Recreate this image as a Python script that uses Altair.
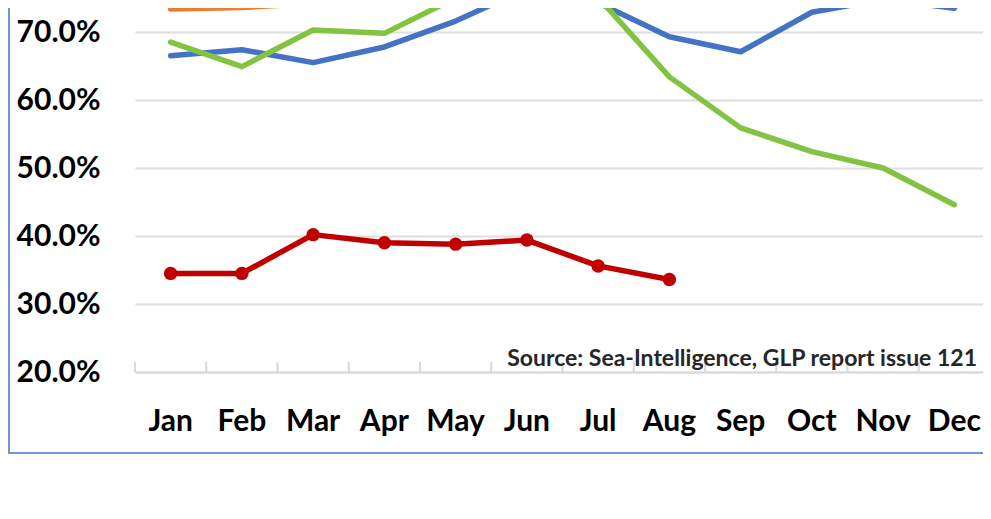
import altair as alt
import pandas as pd

months = ["Jan", "Feb", "Mar", "Apr", "May", "Jun", "Jul", "Aug", "Sep", "Oct", "Nov", "Dec"]
years = ["2018", "2019", "2020", "2021"]
rel_2018 = [66.5, 67.4, 65.5, 67.8, 71.6, 76.4, 74.3, 69.3, 67.1, 72.9, 74.8, 73.5]
rel_2019 = [73.4, 73.6, 74.2, 76.2, 77.6, 78.9, 78.6, 80.6, 78.4, 79.1, 78.0, 79.8]
rel_2020 = [68.5, 64.9, 70.3, 69.8, 75.0, 77.4, 75.1, 63.4, 55.9, 52.4, 50.0, 44.6]
rel_2021 = [34.5, 34.5, 40.2, 39.0, 38.8, 39.4, 35.6, 33.6]
series_colors = ["#4472C4", "#ED7D31", "#82C341", "#C00000"]
y_ticks = [20, 30, 40, 50, 60, 70]
source_note = "Source: Sea-Intelligence, GLP report issue 121"

LEFT = 127
W, H = 848, 364          # visible plot area (svg may not exceed the 975px body width)
X_SPAN = 855             # full category span
PX_PER_PCT = 6.8
y_dom = [20, 20 + H / PX_PER_PCT]
STEP = X_SPAN / len(months)

rows = []
for yr, vals in zip(years, [rel_2018, rel_2019, rel_2020, rel_2021]):
    for m, v in zip(months, vals):
        rows.append({"month": m, "year": yr, "value": v})
df = pd.DataFrame(rows)
df21 = df[df["year"] == "2021"]

edges = pd.DataFrame({"month": months, "base": 20.0, "top": 20 + 10 / PX_PER_PCT})

FONT = "Lato"

x_enc = alt.X(
    "month:N", sort=months, scale=alt.Scale(domain=months, range=[0, X_SPAN]),
    axis=alt.Axis(title=None, labelAngle=0, labelFont=FONT, labelFontSize=30,
                  labelFontWeight="bold", labelColor="#000000", labelPadding=34,
                  ticks=False, domainColor="#d9d9d9", domainWidth=2, grid=False),
)
y_enc = alt.Y(
    "value:Q", scale=alt.Scale(domain=y_dom, nice=False, zero=False),
    axis=alt.Axis(title=None, values=y_ticks, labelExpr="format(datum.value, '.1f') + '%'",
                  labelFont=FONT, labelFontSize=30, labelFontWeight="bold", labelColor="#000000",
                  labelPadding=35, domain=False, ticks=False, grid=True,
                  gridColor="#dedede", gridWidth=2),
)
color_enc = alt.Color("year:N", scale=alt.Scale(domain=years, range=series_colors), legend=None)

lines = alt.Chart(df).mark_line(strokeWidth=5.5, clip=True, strokeJoin="round", strokeCap="round").encode(
    x=x_enc, y=y_enc, color=color_enc
)
points = alt.Chart(df21).mark_circle(size=180, opacity=1, color="#C00000").encode(
    x=alt.X("month:N", sort=months), y="value:Q"
)
ticks = alt.Chart(edges).mark_rule(color="#d9d9d9", strokeWidth=2, xOffset=-STEP / 2).encode(
    x=alt.X("month:N", sort=months), y="base:Q", y2="top:Q",
)
note = alt.Chart(pd.DataFrame({"t": [source_note]})).mark_text(
    align="right", baseline="alphabetic", font=FONT, fontSize=23, fontWeight="bold", color="#262626"
).encode(text="t:N", x=alt.value(842), y=alt.value(H - 6))

frame_left = alt.Chart(pd.DataFrame({"k": [0]})).mark_rule(color="#7394d6", strokeWidth=2).encode(
    x=alt.value(-(LEFT - 1)), y=alt.value(0), y2=alt.value(446)
)
frame_bottom = alt.Chart(pd.DataFrame({"k": [0]})).mark_rule(color="#7394d6", strokeWidth=2).encode(
    x=alt.value(-LEFT), x2=alt.value(W), y=alt.value(445)
)

chart = alt.layer(lines, points, ticks, note, frame_left, frame_bottom).properties(
    width=W, height=H, background="white",
    autosize=alt.AutoSizeParams(type="none"),
    padding={"left": LEFT, "top": 0, "right": 0, "bottom": 84},
).configure_view(stroke=None)

chart.save("out.html", embed_options={"renderer": "svg", "actions": False})
